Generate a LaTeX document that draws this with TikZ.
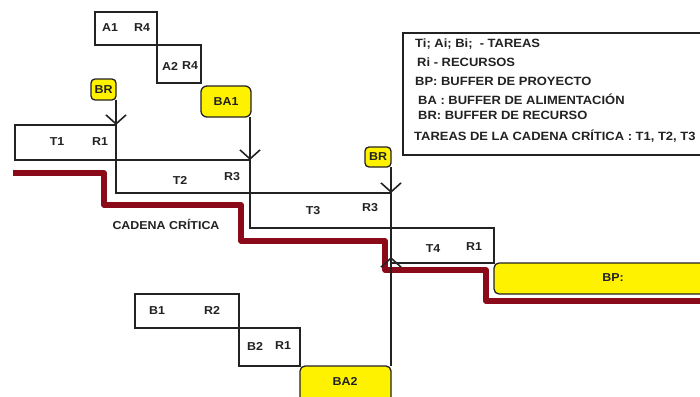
\documentclass[tikz,border=0pt]{standalone}
\usepackage{fontspec}
\setmainfont{Liberation Sans}
\usetikzlibrary{arrows.meta}
\definecolor{ink}{HTML}{222222}
\definecolor{chain}{HTML}{8B0A1A}
\definecolor{buf}{HTML}{FFF200}
\tikzset{
  box/.style={draw=ink, line width=1.3pt, inner sep=0pt, outer sep=0pt, fill=white},
  bufbox/.style={draw=ink, line width=1.3pt, inner sep=0pt, outer sep=0pt, fill=buf, rounded corners=5pt},
  lbl/.style={font=\bfseries\fontsize{11.5}{12}\selectfont, text=ink, xscale=1.08, inner sep=0pt},
  leg/.style={font=\bfseries\fontsize{12}{13}\selectfont, text=ink, xscale=1.08, inner sep=0pt, anchor=west},
  arr/.style={draw=ink, line width=1.4pt, -{Straight Barb[length=9pt,width=20pt,line width=1.6pt]}},
  crit/.style={draw=chain, line width=5.5pt, line join=round}
}
\begin{document}
\begin{tikzpicture}[x=1pt,y=-1pt]
\useasboundingbox (0,0) rectangle (700,396);
% critical chain
\draw[crit] (13,173) -- (104,173) -- (104,205) -- (241,205) -- (241,241) -- (385,241) -- (385,270) -- (486,270) -- (486,301) -- (705,301);
% task boxes
\node[box, minimum width=101pt, minimum height=35pt] (t1) at (65.5,142.5) {};
\node[box, minimum width=134pt, minimum height=33pt] (t2) at (183,176.5) {};
\node[box, minimum width=141pt, minimum height=35pt] (t3) at (320.5,210.5) {};
\node[box, minimum width=103pt, minimum height=35pt] (t4) at (442.5,245.5) {};
\node[box, minimum width=62pt, minimum height=33pt] (a1) at (126,28.5) {};
\node[box, minimum width=44pt, minimum height=38pt] (a2) at (179,64) {};
\node[box, minimum width=104pt, minimum height=34pt] (b1) at (187,311) {};
\node[box, minimum width=61pt, minimum height=38pt] (b2) at (269.5,347) {};
% buffers
\node[bufbox, minimum width=91pt, minimum height=36pt] (ba2) at (345.5,384) {};
\node[bufbox, minimum width=220pt, minimum height=31pt] (bp) at (604,278.5) {};
\node[bufbox, rounded corners=4pt, minimum width=25pt, minimum height=21pt] (br1) at (103.5,89.5) {};
\node[bufbox, rounded corners=6pt, minimum width=50pt, minimum height=31pt] (ba1) at (226,101.5) {};
\node[bufbox, rounded corners=4pt, minimum width=26pt, minimum height=20pt] (br2) at (378,157) {};
% labels
\node[lbl] at (57,142) {T1};
\node[lbl] at (100,142) {R1};
\node[lbl] at (180,180) {T2};
\node[lbl] at (232,177) {R3};
\node[lbl] at (313,211) {T3};
\node[lbl] at (370,208) {R3};
\node[lbl] at (433,249) {T4};
\node[lbl] at (474,247) {R1};
\node[lbl] at (110,28) {A1};
\node[lbl] at (142,28) {R4};
\node[lbl] at (170,66) {A2};
\node[lbl] at (190,66) {R4};
\node[lbl] at (157,311) {B1};
\node[lbl] at (212,310) {R2};
\node[lbl] at (255,346) {B2};
\node[lbl] at (283,346) {R1};
\node[lbl] at (103.5,90) {BR};
\node[lbl] at (226,101.5) {BA1};
\node[lbl] at (378,157) {BR};
\node[lbl] at (345,381) {BA2};
\node[lbl] at (613,278) {BP:};
\node[lbl] at (166,224) {CADENA CRÍTICA};
% connectors
\draw[arr] (br1.south east) -- (t1.north east);
\draw[arr] (t2.north east |- ba1.south) -- (t2.north east);
\draw[arr] (br2.south east) -- (t3.north east);
\draw[arr] (ba2.north east) -- ([yshift=6pt]t4.south west);
% legend
\node[draw=ink, line width=2pt, inner sep=0pt, minimum width=310pt, minimum height=122pt, anchor=north west] (legend) at (402,32) {};
\node[leg] (l1) at (415,44) {Ti; Ai; Bi;\ \ - TAREAS};
\node[leg] (l2) at (417,62) {Ri - RECURSOS};
\node[leg] (l3) at (415,81) {BP: BUFFER DE PROYECTO};
\node[leg] (l4) at (418,99) {BA : BUFFER DE ALIMENTACIÓN};
\node[leg] (l5) at (418,115) {BR: BUFFER DE RECURSO};
\node[leg] (l6) at (414,136) {TAREAS DE LA CADENA CRÍTICA : T1, T2, T3};
\end{tikzpicture}
\end{document}
